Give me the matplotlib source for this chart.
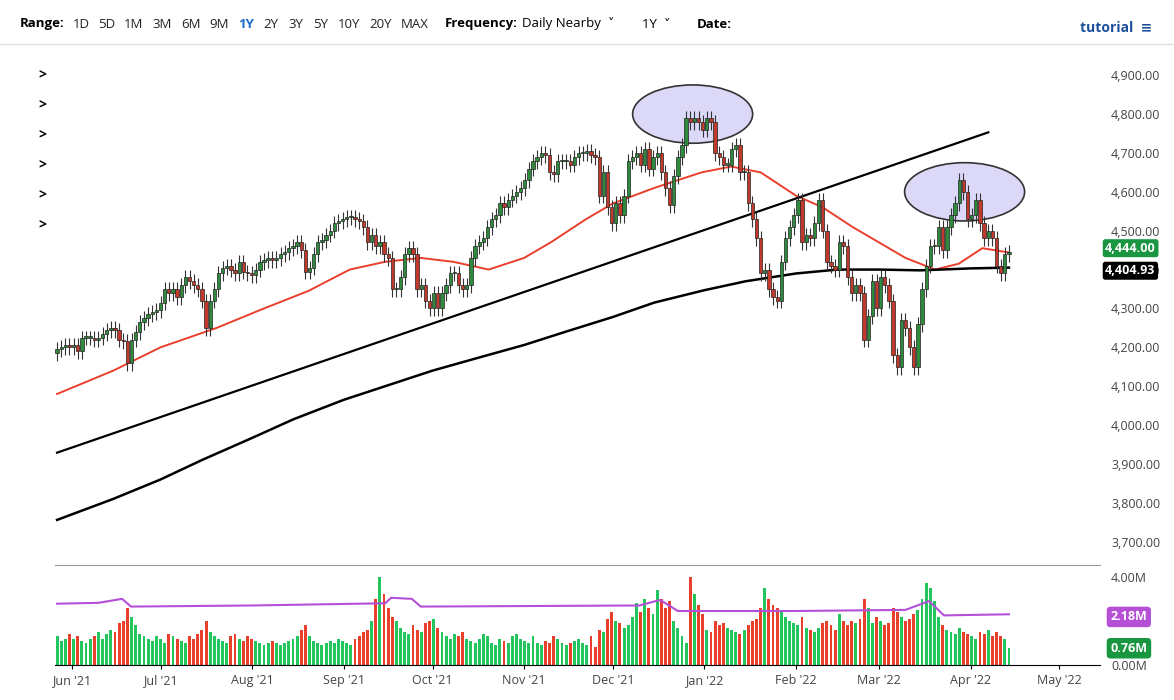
import numpy as np
import pandas as pd
import matplotlib
matplotlib.use("Agg")
import matplotlib.pyplot as plt
from matplotlib.patches import Ellipse, Rectangle

# daily closes, 2021-05-27 .. 2022-04-14 (by month)
closes = (
    [4195, 4200, 4205]
    + [4200, 4205, 4190, 4225, 4225, 4225, 4220, 4225, 4235, 4245, 4250, 4245, 4220, 4215, 4160, 4220, 4240, 4265, 4275, 4285, 4290, 4295]
    + [4315, 4350, 4340, 4350, 4330, 4360, 4380, 4370, 4360, 4350, 4320, 4250, 4320, 4350, 4390, 4405, 4410, 4400, 4390, 4420, 4395, 4390]
    + [4385, 4400, 4420, 4425, 4430, 4425, 4430, 4440, 4445, 4455, 4460, 4470, 4450, 4395, 4405, 4440, 4470, 4475, 4490, 4500, 4520, 4525]
    + [4530, 4535, 4535, 4530, 4525, 4510, 4470, 4490, 4460, 4470, 4440, 4430, 4350, 4350, 4380, 4440, 4455, 4440, 4350, 4360, 4320, 4300]
    + [4340, 4300, 4340, 4360, 4390, 4390, 4360, 4350, 4360, 4430, 4460, 4470, 4480, 4510, 4530, 4540, 4570, 4560, 4580, 4590, 4600]
    + [4610, 4630, 4660, 4680, 4690, 4700, 4695, 4650, 4645, 4680, 4680, 4680, 4670, 4690, 4700, 4700, 4705, 4695, 4690, 4590, 4650, 4560]
    + [4520, 4570, 4540, 4590, 4680, 4690, 4700, 4670, 4710, 4660, 4690, 4700, 4650, 4610, 4565, 4640, 4690, 4720, 4790, 4780, 4790, 4780, 4760]
    + [4790, 4780, 4700, 4690, 4670, 4670, 4710, 4720, 4650, 4650, 4570, 4530, 4480, 4390, 4400, 4350, 4330, 4320, 4420, 4480, 4510]
    + [4540, 4580, 4470, 4490, 4480, 4520, 4580, 4500, 4420, 4410, 4400, 4470, 4460, 4380, 4340, 4360, 4340, 4220, 4280, 4370]
    + [4300, 4380, 4360, 4320, 4180, 4150, 4270, 4250, 4200, 4150, 4260, 4350, 4410, 4460, 4460, 4510, 4450, 4510, 4540, 4570, 4630, 4600, 4530]
    + [4540, 4580, 4520, 4480, 4500, 4480, 4410, 4390, 4440, 4444]
)
# daily volume, millions
volume = (
    [1.3, 1.1, 1.2]
    + [1.4, 1.2, 1.3, 1.1, 1.0, 1.2, 1.3, 1.5, 1.2, 1.4, 1.6, 1.5, 1.9, 2.0, 2.6, 2.2, 1.8, 1.4, 1.3, 1.2, 1.1, 1.3]
    + [1.2, 1.0, 1.4, 1.3, 1.2, 1.1, 1.0, 1.3, 1.2, 1.4, 1.6, 2.0, 1.5, 1.3, 1.2, 1.1, 1.0, 1.3, 1.4, 1.2, 1.1, 1.3]
    + [1.2, 1.1, 1.0, 0.9, 1.0, 1.1, 1.0, 0.9, 1.0, 1.1, 1.2, 1.3, 1.6, 1.8, 1.3, 1.1, 1.0, 0.9, 1.0, 1.1, 1.0, 1.2]
    + [1.1, 1.0, 0.9, 1.2, 1.3, 1.5, 1.6, 2.0, 3.0, 4.0, 3.2, 2.6, 2.2, 2.0, 1.7, 1.5, 1.4, 1.8, 1.6, 1.5, 1.9, 2.0]
    + [2.1, 1.7, 1.5, 1.3, 1.2, 1.4, 1.3, 1.5, 1.2, 1.1, 1.0, 1.2, 1.4, 1.3, 1.0, 0.9, 1.2, 1.1, 1.0, 1.3, 1.4]
    + [1.2, 1.1, 1.0, 1.3, 1.0, 0.9, 1.1, 1.0, 1.3, 1.2, 1.0, 0.9, 1.0, 1.1, 1.2, 1.0, 0.9, 1.3, 0.8, 1.6, 1.5, 2.1]
    + [2.4, 2.0, 1.9, 1.7, 1.8, 2.2, 2.8, 2.4, 3.0, 2.6, 2.3, 3.4, 3.0, 2.6, 2.9, 2.0, 1.7, 1.3, 1.0, 4.0, 3.2, 2.7, 2.3]
    + [1.6, 1.5, 2.0, 1.8, 1.9, 1.7, 1.6, 1.5, 1.4, 1.6, 1.8, 2.0, 2.1, 2.6, 3.5, 3.0, 2.7, 2.6, 2.5, 2.2, 2.0]
    + [1.9, 1.8, 2.2, 1.7, 1.6, 1.5, 1.7, 1.9, 2.0, 1.8, 1.6, 2.3, 2.0, 1.8, 2.0, 1.9, 2.1, 3.0, 2.6, 1.9]
    + [2.2, 2.0, 1.8, 1.9, 2.6, 2.4, 2.2, 2.0, 2.1, 2.3, 2.5, 3.0, 3.7, 3.5, 2.9, 2.2, 1.8, 1.6, 1.5, 1.4, 1.7, 1.5, 1.4]
    + [1.3, 1.2, 1.5, 1.4, 1.6, 1.3, 1.5, 1.3, 1.2, 0.76]
)
# moving averages (sparse readings)
ma50_dates = ["2021-05-27", "2021-06-15", "2021-07-01", "2021-07-20", "2021-08-05", "2021-08-20",
              "2021-09-03", "2021-09-15", "2021-09-27", "2021-10-08", "2021-10-20", "2021-11-01",
              "2021-11-10", "2021-11-22", "2021-12-01", "2021-12-15", "2021-12-31", "2022-01-10",
              "2022-01-20", "2022-02-01", "2022-02-10", "2022-02-20", "2022-03-01", "2022-03-10",
              "2022-03-20", "2022-03-28", "2022-04-05", "2022-04-14"]
ma50_vals = [4080, 4140, 4200, 4250, 4300, 4345, 4400, 4420, 4430, 4420, 4400, 4430,
             4470, 4530, 4570, 4610, 4650, 4665, 4650, 4590, 4560, 4510, 4470, 4430,
             4400, 4415, 4455, 4444]
ma200_dates = ["2021-05-27", "2021-06-15", "2021-07-01", "2021-07-15", "2021-08-01", "2021-08-15",
               "2021-09-01", "2021-09-15", "2021-10-01", "2021-10-15", "2021-11-01", "2021-11-15",
               "2021-12-01", "2021-12-15", "2022-01-01", "2022-01-15", "2022-02-01", "2022-02-15",
               "2022-03-01", "2022-03-15", "2022-04-01", "2022-04-14"]
ma200_vals = [3756, 3810, 3860, 3910, 3967, 4015, 4065, 4100, 4140, 4170, 4206, 4240,
              4278, 4315, 4347, 4370, 4390, 4400, 4400, 4398, 4403, 4405]
vavg_dates = ["2021-05-27", "2021-06-10", "2021-06-18", "2021-06-21", "2021-08-01", "2021-09-15",
              "2021-09-17", "2021-09-24", "2021-09-27", "2021-12-10", "2021-12-17", "2021-12-23",
              "2022-02-01", "2022-03-10", "2022-03-18", "2022-03-23", "2022-04-14"]
vavg_vals = [2.78, 2.82, 3.0, 2.65, 2.7, 2.8, 3.05, 3.0, 2.65, 2.7, 2.95, 2.45,
             2.45, 2.5, 2.9, 2.25, 2.3]
trend_dates = ["2021-05-27", "2022-04-07"]
trend_vals = [3929, 4753]
month_labels = ["Jun '21", "Jul '21", "Aug '21", "Sep '21", "Oct '21", "Nov '21", "Dec '21",
                "Jan '22", "Feb '22", "Mar '22", "Apr '22", "May '22"]

dates = pd.bdate_range("2021-05-27", periods=len(closes))
x = np.arange(len(closes))
def xpos(d):
    return (pd.Timestamp(d) - dates[0]).days * 5 / 7

closes = np.array(closes, float)
opens = np.r_[closes[0] - 10, closes[:-1]]
up = closes >= opens
GREEN, RED = "#1a9641", "#e8402c"

plt.rcParams["font.family"] = ["Open Sans", "DejaVu Sans"]
fig = plt.figure(figsize=(11.74, 7), dpi=100)
W, H = 1174, 700
ax = fig.add_axes([55 / W, 1 - 565 / H, 1045 / W, 517 / H])
axv = fig.add_axes([55 / W, 1 - 665 / H, 1045 / W, 97 / H], sharex=ax)

# annotations first so candles show on top
for cd, cp in [("2021-12-28", 4800), ("2022-03-30", 4600)]:
    ax.add_patch(Ellipse((xpos(cd), cp), 29, 150, facecolor="#dcd8f8", edgecolor="#333333",
                         lw=1.2, zorder=1))

# candles
for i in x:
    o, c = opens[i], closes[i]
    lo, hi = min(o, c) - 20, max(o, c) + 18
    col = "#2e8b3e" if up[i] else "#c0392b"
    ax.vlines(i, lo, hi, color="#333333", lw=0.8, zorder=3)
    ax.add_patch(Rectangle((i - 0.4, min(o, c)), 0.8, max(abs(c - o), 3),
                           facecolor=col, edgecolor="#222222", lw=0.5, zorder=4))

ax.plot([xpos(d) for d in ma50_dates], ma50_vals, color="#e8402c", lw=1.4, zorder=2)
ax.plot([xpos(d) for d in ma200_dates], ma200_vals, color="black", lw=1.8, zorder=2)
ax.plot([xpos(d) for d in trend_dates], trend_vals, color="black", lw=1.6, zorder=2)

ax.set_xlim(-0.5, 252)
ax.set_ylim(3640, 4970)
ax.yaxis.tick_right()
ax.set_yticks(range(3700, 4901, 100))
ax.set_yticklabels([f"{v:,.2f}" for v in range(3700, 4901, 100)], fontsize=9, color="#444")
ax.tick_params(axis="y", length=0, pad=8)
ax.tick_params(axis="x", length=0, labelbottom=False)
for s in ["top", "left", "right"]:
    ax.spines[s].set_visible(False)
ax.spines["bottom"].set_color("#999")

# price labels
ax.text(1.005, (4455 - 3640) / 1330, "4,444.00", transform=ax.transAxes, fontsize=9,
        fontweight="bold", color="white", va="center",
        bbox=dict(boxstyle="round,pad=0.2", fc=GREEN, ec="none"))
ax.text(1.005, (4397 - 3640) / 1330, "4,404.93", transform=ax.transAxes, fontsize=9,
        fontweight="bold", color="white", va="center",
        bbox=dict(boxstyle="round,pad=0.2", fc="black", ec="none"))

# volume
axv.bar(x, volume, width=0.7, color=np.where(up, "#22c55e", RED))
axv.plot([xpos(d) for d in vavg_dates], vavg_vals, color="#b44fd6", lw=1.5)
axv.set_ylim(0, 4.4)
axv.yaxis.tick_right()
axv.set_yticks([0, 4])
axv.set_yticklabels(["0.00M", "4.00M"], fontsize=9, color="#444")
axv.tick_params(axis="y", length=0, pad=8)
for s in ["top", "left", "right"]:
    axv.spines[s].set_visible(False)
axv.text(1.01, 2.18 / 4.4, "2.18M", transform=axv.transAxes, fontsize=9, color="white",
         fontweight="bold", va="center", bbox=dict(boxstyle="round,pad=0.3", fc="#b44fd6", ec="none"))
axv.text(1.01, 0.76 / 4.4, "0.76M", transform=axv.transAxes, fontsize=9, color="white",
         fontweight="bold", va="center", bbox=dict(boxstyle="round,pad=0.3", fc=GREEN, ec="none"))

month_starts = [xpos(d) for d in pd.date_range("2021-06-01", periods=12, freq="MS")]
axv.set_xticks(month_starts)
axv.set_xticklabels(month_labels, fontsize=9, color="#444")
axv.tick_params(axis="x", length=3)

# toolbar
fig.text(20 / W, 1 - 24 / H, "Range:", fontsize=9.5, fontweight="bold", va="center")
rng = ["1D", "5D", "1M", "3M", "6M", "9M", "1Y", "2Y", "3Y", "5Y", "10Y", "20Y", "MAX"]
rng_x = [73, 98, 124, 152, 181, 209, 238, 263, 288, 313, 338, 369, 401]
for r, xx in zip(rng, rng_x):
    fig.text(xx / W, 1 - 24 / H, r, fontsize=9.5, va="center",
             color="#1a6fd1" if r == "1Y" else "#222", fontweight="bold" if r == "1Y" else "normal")
fig.text(445 / W, 1 - 24 / H, "Frequency:", fontsize=9.5, fontweight="bold", va="center")
fig.text(522 / W, 1 - 24 / H, "Daily Nearby  \u02c5", fontsize=9.5, va="center")
fig.text(642 / W, 1 - 24 / H, "1Y  \u02c5", fontsize=9.5, va="center")
fig.text(697 / W, 1 - 24 / H, "Date:", fontsize=9.5, fontweight="bold", va="center")
fig.text(1080 / W, 1 - 28 / H, "tutorial  \u2261", fontsize=10, fontweight="bold", color="#1a4f9c", va="center")
fig.add_artist(plt.Line2D([0, 1], [1 - 44 / H] * 2, color="#ddd", lw=1))
for k in range(6):
    fig.text(38 / W, 1 - (74 + 30 * k) / H, ">", fontsize=10, va="center", fontweight="bold")

fig.savefig("out.png", dpi=100, facecolor="white")
